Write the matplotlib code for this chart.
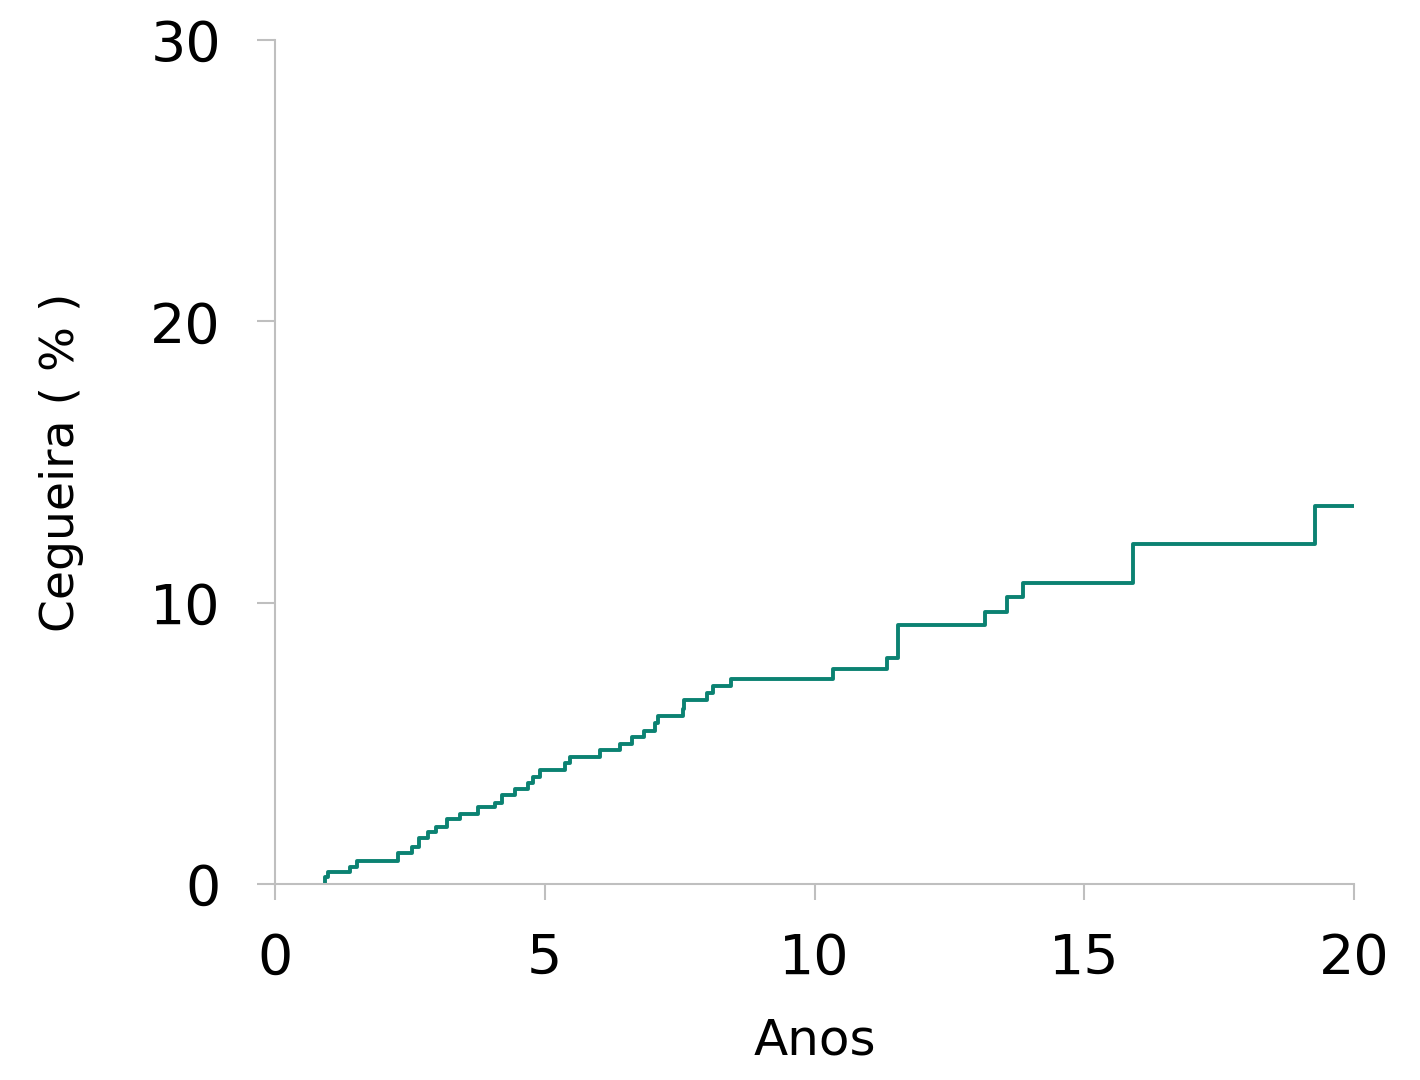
import matplotlib
matplotlib.use('Agg')
import matplotlib.pyplot as plt

# event times (years) and cumulative blindness (%)
anos = [0.93, 0.98, 1.39, 1.52, 2.28, 2.54, 2.67, 2.84, 2.98, 3.19, 3.43, 3.76,
        4.08, 4.21, 4.45, 4.69, 4.78, 4.91, 5.38, 5.47, 6.02, 6.39, 6.62, 6.84,
        7.04, 7.10, 7.56, 7.58, 8.01, 8.12, 8.45, 10.34, 11.34, 11.55, 13.16,
        13.57, 13.86, 15.90, 19.28]
cegueira = [0.25, 0.43, 0.60, 0.82, 1.10, 1.32, 1.64, 1.85, 2.03, 2.31, 2.49, 2.74,
            2.88, 3.16, 3.38, 3.59, 3.80, 4.05, 4.30, 4.51, 4.76, 4.98, 5.23, 5.44,
            5.72, 5.97, 6.22, 6.54, 6.79, 7.04, 7.29, 7.64, 8.03, 9.21, 9.67,
            10.20, 10.70, 12.09, 13.44]
x_fim = 20

xs = [anos[0]] + anos + [x_fim]
ys = [0] + cegueira + [cegueira[-1]]

fig = plt.figure(figsize=(14.2, 10.8), dpi=100)
ax = fig.add_axes([0.1937, 0.1815, 0.7598, 0.7815])
ax.step(xs, ys, where='post', color='#0b8272', linewidth=2.8)

ax.set_xlim(0, 20)
ax.set_ylim(0, 30)
ax.set_xticks([0, 5, 10, 15, 20])
ax.set_yticks([0, 10, 20, 30])

grey = '#bfbfbf'
for s in ['top', 'right']:
    ax.spines[s].set_visible(False)
for s in ['left', 'bottom']:
    ax.spines[s].set_color(grey)
    ax.spines[s].set_linewidth(1.5)
ax.tick_params(axis='both', colors=grey, labelcolor='black', labelsize=40,
               width=1.5, direction='out')
ax.tick_params(axis='y', length=13, pad=26)
ax.tick_params(axis='x', length=11.5, pad=23)

ax.set_xlabel('Anos', fontsize=36, labelpad=22)
ax.set_ylabel('Cegueira ( % )', fontsize=34, labelpad=48)

fig.savefig('out.png', dpi=100)
